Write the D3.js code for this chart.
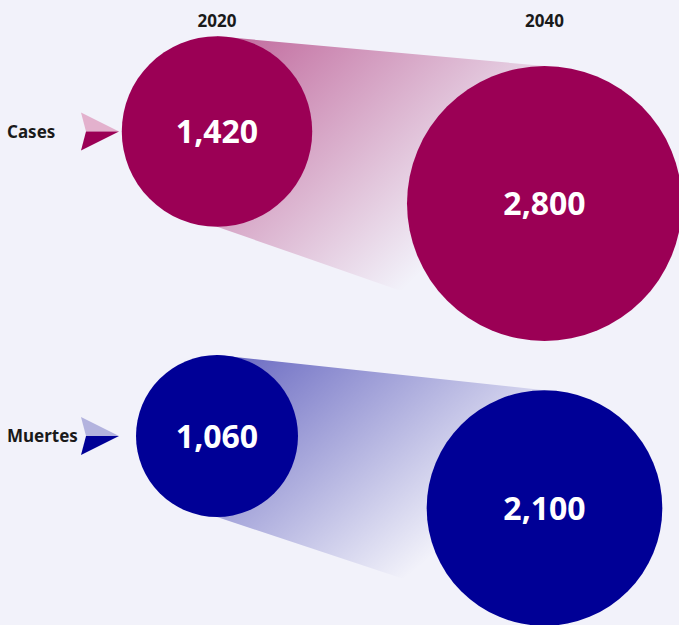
<!DOCTYPE html>
<html>
<head>
<meta charset="utf-8">
<script src="https://cdn.jsdelivr.net/npm/d3@7"></script>
<style>
  html, body { margin: 0; padding: 0; background: #f2f2fa; }
  svg { display: block; font-family: "Noto Sans", "Open Sans", sans-serif; }
</style>
</head>
<body>
<script>
const width = 679,
      height = 625;

// data
const years = ['2020', '2040'];
const metrics = ['Cases', 'Muertes'];
const cases = [1420, 2800];
const deaths = [1060, 2100];
const colors = ['#9b0055', '#000096'];
const lightColors = ['#e3b1cd', '#b3b3de'];

const series = [cases, deaths];
const fmt = d3.format(',');

const x = d3.scalePoint()
    .domain(years)
    .range([217, 544.5]);

const y = d3.scalePoint()
    .domain(metrics)
    .range([131.5, 436]);

// later year sits a bit lower
const drop = d3.scaleOrdinal()
    .domain(years)
    .range([0, 72]);

const r = d3.scaleSqrt()
    .domain(d3.extent(series.flat()))
    .range([81, 137.5]);

const svg = d3.select('body').append('svg')
    .attr('width', width)
    .attr('height', height);

svg.append('rect')
    .attr('width', width)
    .attr('height', height)
    .attr('fill', '#f2f2fa');

const defs = svg.append('defs');

// year headers
svg.selectAll('.year')
  .data(years)
  .enter()
  .append('text')
    .attr('class', 'year')
    .attr('x', (d) => x(d))
    .attr('y', 27)
    .attr('text-anchor', 'middle')
    .attr('font-size', 17)
    .attr('font-weight', 700)
    .attr('fill', '#1a1a1a')
    .text((d) => d);

metrics.forEach((m, i) => {
  const vals = series[i];
  const pts = years.map((yr, j) => ({
    year: yr,
    value: vals[j],
    cx: x(yr),
    cy: y(m) + drop(yr),
    r: r(vals[j])
  }));

  const g = svg.append('g');

  // fading cone between the two circles
  const grad = defs.append('linearGradient')
      .attr('id', 'cone' + i)
      .attr('x1', 0).attr('y1', 0)
      .attr('x2', 1).attr('y2', 1);
  grad.append('stop').attr('offset', 0)
      .attr('stop-color', colors[i]).attr('stop-opacity', 0.58);
  grad.append('stop').attr('offset', 0.7)
      .attr('stop-color', colors[i]).attr('stop-opacity', 0);

  const a = pts[0], b = pts[1];
  g.append('polygon')
      .attr('points', [
        [a.cx, a.cy - a.r],
        [b.cx, b.cy - b.r],
        [b.cx, b.cy + b.r],
        [a.cx, a.cy + a.r]
      ].map((p) => p.join(',')).join(' '))
      .attr('fill', `url(#cone${i})`);

  g.selectAll('circle')
    .data(pts)
    .enter()
    .append('circle')
      .attr('cx', (d) => d.cx)
      .attr('cy', (d) => d.cy)
      .attr('r', (d) => d.r)
      .attr('fill', colors[i]);

  g.selectAll('.val')
    .data(pts)
    .enter()
    .append('text')
      .attr('class', 'val')
      .attr('x', (d) => d.cx)
      .attr('y', (d) => d.cy)
      .attr('dy', '0.36em')
      .attr('text-anchor', 'middle')
      .attr('font-size', 32)
      .attr('font-weight', 700)
      .attr('fill', '#fff')
      .text((d) => fmt(d.value));

  // row label
  const ry = y(m);
  g.append('text')
      .attr('x', 7)
      .attr('y', ry)
      .attr('dy', '0.36em')
      .attr('font-size', 17)
      .attr('font-weight', 700)
      .attr('fill', '#1a1a1a')
      .text(m);

  // little two-tone arrow
  const tip = 119, back = 81, notch = 86, hh = 19;
  g.append('polygon')
      .attr('points', `${back},${ry - hh} ${tip},${ry} ${notch},${ry}`)
      .attr('fill', lightColors[i]);
  g.append('polygon')
      .attr('points', `${notch},${ry} ${tip},${ry} ${back},${ry + hh}`)
      .attr('fill', colors[i]);
});
</script>
</body>
</html>
